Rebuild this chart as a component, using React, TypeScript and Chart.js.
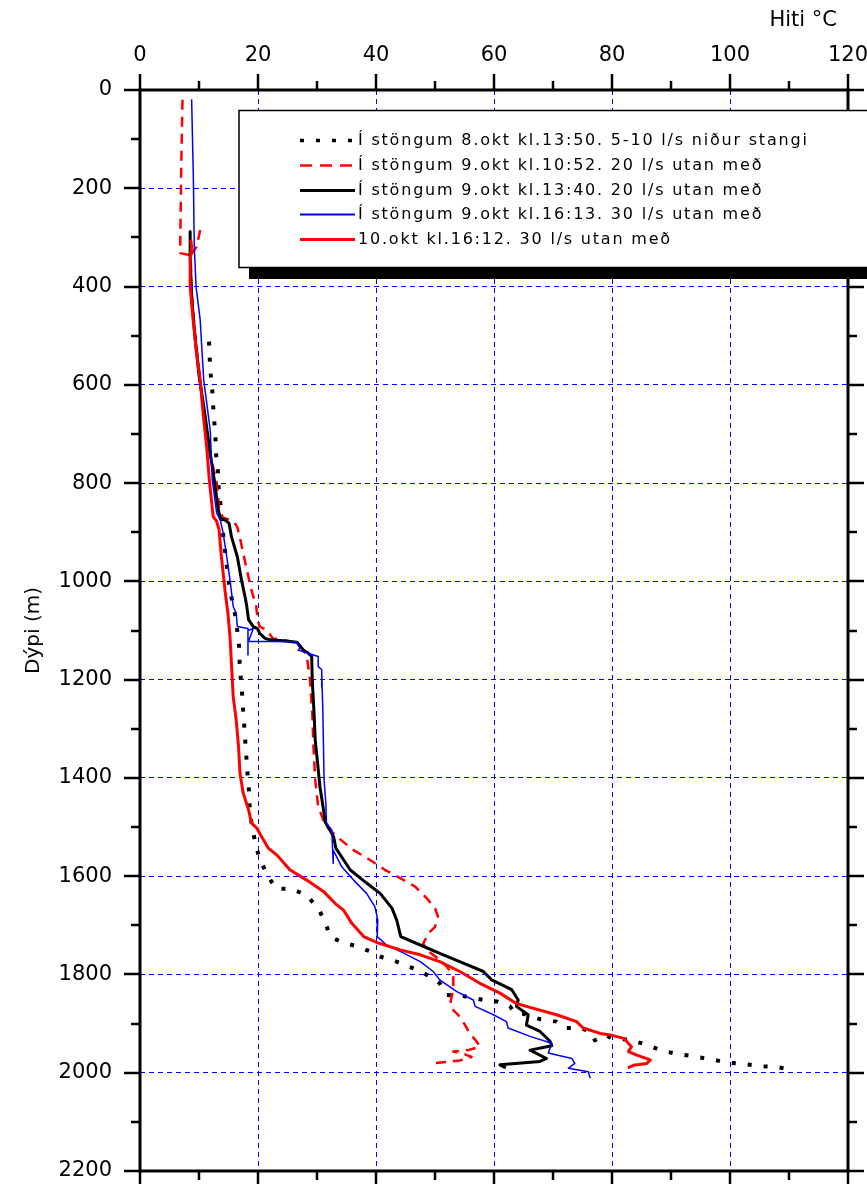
import { useEffect, useRef } from 'react';
import { Chart, registerables } from 'chart.js';

Chart.register(...registerables);

const FONT = "'DejaVu Sans', sans-serif";

// Axis ticks
const xTickValues = [0, 20, 40, 60, 80, 100, 120];
const xTickLabels = ['0', '20', '40', '60', '80', '100', '120'];
const xMinorTicks = [10, 30, 50, 70, 90, 110];
const yTickValues = [0, 200, 400, 600, 800, 1000, 1200, 1400, 1600, 1800, 2000, 2200];
const yTickLabels = ['0', '200', '400', '600', '800', '1000', '1200', '1400', '1600', '1800', '2000', '2200'];
const yMinorTicks = [100, 300, 500, 700, 900, 1100, 1300, 1500, 1700, 1900, 2100];
const xAxisTitle = 'Hiti °C';
const yAxisTitle = 'Dýpi (m)';

// Series labels
const seriesLabels = [
  'Í stöngum 8.okt kl.13:50. 5-10 l/s niður stangi',
  'Í stöngum 9.okt kl.10:52. 20 l/s utan með',
  'Í stöngum 9.okt kl.13:40. 20 l/s utan með',
  'Í stöngum 9.okt kl.16:13. 30 l/s utan með',
  '10.okt kl.16:12. 30 l/s utan með',
];

// Series 1: 8.okt 13:50 (temperature °C, depth m)
const s1Temp = [11.7, 11.8, 12.0, 12.25, 12.4, 12.6, 12.8, 12.9, 13.2, 13.3, 13.6, 13.9, 14.1, 14.4, 14.8, 15.25, 15.7, 16.2, 16.5, 16.8, 16.9, 17.1, 17.35, 17.5, 17.7, 17.9, 18.1, 18.25, 18.5, 18.6, 18.9, 19.5, 20.2, 21.4, 23.0, 25.8, 28.4, 30.5, 31.7, 32.0, 33.0, 35.0, 36.6, 39.0, 40.8, 43.5, 45.8, 47.6, 50.0, 50.8, 52.0, 54.5, 56.5, 58.2, 60.5, 62.7, 63.6, 65.0, 67.8, 70.6, 72.0, 74.6, 76.3, 77.1, 78.8, 80.0, 83.0, 85.9, 88.4, 91.2, 94.1, 96.9, 99.4, 102.7, 105.6, 108.3, 110.0];
const s1Depth = [512, 543, 580, 612, 644, 676, 710, 743, 775, 807, 840, 872, 905, 936, 977, 1018, 1044, 1072, 1102, 1133, 1167, 1201, 1235, 1268, 1299, 1336, 1370, 1397, 1431, 1462, 1492, 1530, 1562, 1594, 1625, 1626, 1640, 1672, 1704, 1718, 1728, 1737, 1742, 1753, 1764, 1774, 1785, 1794, 1810, 1818, 1842, 1843, 1848, 1852, 1855, 1865, 1879, 1880, 1891, 1896, 1909, 1909, 1916, 1934, 1923, 1930, 1933, 1943, 1955, 1962, 1967, 1973, 1979, 1983, 1987, 1989, 1993];

// Series 2: 9.okt 10:52 (null = break between logging runs)
const s2Temp = [7.2, 7.0, 6.8, 8.4, null, 10.2, 9.6, 8.6, 8.7, 9.2, 9.9, 10.6, 11.5, 13.0, 13.4, 14.0, 15.0, 16.0, 16.5, 16.9, 17.5, 18.25, 18.9, 19.7, 19.95, 20.3, 21.5, 22.5, 25.0, 26.8, 27.5, 28.25, 28.8, 29.2, 29.4, 29.7, 30.2, 31.4, 33.3, 36.2, 39.0, 41.5, 44.1, 46.6, 48.6, 50.0, 50.5, 50.0, 48.9, 48.0, 48.9, 50.8, 52.0, 53.1, 53.1, 52.65, 52.8, 54.2, 55.1, 55.9, 57.1, 57.6, 55.6, 53.1, 55.0, 56.2, 54.2, 52.0, 49.4];
const s2Depth = [20, 150, 332, 336, null, 285, 319, 336, 400, 480, 560, 640, 720, 800, 850, 870, 874, 880, 890, 909, 943, 984, 1018, 1051, 1079, 1092, 1099, 1116, 1121, 1126, 1138, 1150, 1200, 1268, 1336, 1404, 1458, 1496, 1519, 1547, 1567, 1587, 1604, 1621, 1645, 1665, 1682, 1703, 1716, 1737, 1753, 1770, 1784, 1804, 1831, 1855, 1869, 1886, 1903, 1920, 1937, 1947, 1954, 1957, 1962, 1968, 1975, 1978, 1981];

// Series 3: 9.okt 13:40
const s3Temp = [8.5, 8.5, 8.75, 9.3, 10.0, 11.0, 11.9, 12.6, 13.2, 13.6, 14.4, 15.1, 15.5, 16.5, 17.2, 17.8, 18.1, 18.4, 19.2, 19.9, 20.3, 21.2, 22.0, 24.3, 26.6, 27.1, 27.7, 28.5, 29.1, 29.2, 29.5, 29.7, 30.1, 30.5, 31.1, 31.4, 32.8, 33.2, 35.6, 38.4, 40.7, 42.7, 43.5, 44.2, 46.9, 50.8, 54.8, 58.2, 59.6, 63.0, 64.1, 63.8, 65.8, 65.5, 67.8, 69.5, 69.8, 66.1, 68.9, 67.8, 61.0, 62.0];
const s3Depth = [288, 339, 421, 500, 580, 660, 740, 794, 850, 872, 875, 882, 909, 950, 997, 1031, 1051, 1078, 1092, 1096, 1106, 1116, 1119, 1121, 1124, 1131, 1140, 1146, 1153, 1201, 1268, 1323, 1370, 1418, 1465, 1490, 1519, 1543, 1587, 1614, 1635, 1665, 1689, 1723, 1737, 1757, 1777, 1794, 1811, 1831, 1852, 1865, 1882, 1903, 1916, 1936, 1945, 1954, 1971, 1977, 1984, 1990];

// Series 4: 9.okt 16:13
const s4Temp = [8.75, 9.05, 9.2, 9.5, 10.2, 10.8, 11.9, 12.25, 13.0, 13.6, 14.1, 14.7, 15.25, 15.8, 16.3, 16.5, 18.3, 18.3, 18.3, 19.2, 18.4, 26.5, 27.1, 26.8, 29.4, 30.2, 30.2, 30.8, 30.8, 30.8, 31.0, 31.1, 31.2, 31.5, 31.6, 32.5, 32.75, 32.75, 34.2, 36.2, 38.4, 39.8, 40.3, 40.2, 41.8, 44.1, 47.5, 49.7, 50.8, 53.7, 56.5, 56.8, 59.9, 62.1, 62.4, 66.1, 69.8, 69.2, 73.2, 73.7, 72.6, 76.0, 76.3];
const s4Depth = [19, 183, 319, 400, 468, 590, 692, 794, 861, 875, 902, 950, 997, 1051, 1065, 1092, 1096, 1150, 1100, 1096, 1122, 1123, 1136, 1140, 1150, 1153, 1173, 1180, 1215, 1185, 1268, 1336, 1404, 1452, 1492, 1506, 1574, 1547, 1581, 1608, 1635, 1662, 1689, 1723, 1740, 1753, 1774, 1794, 1811, 1835, 1852, 1865, 1882, 1896, 1909, 1926, 1940, 1960, 1971, 1981, 1991, 1998, 2011];

// Series 5: 10.okt 16:12
const s5Temp = [8.6, 8.75, 8.5, 8.5, 9.0, 9.6, 10.2, 10.7, 11.3, 11.75, 12.4, 13.0, 13.4, 13.8, 14.4, 14.9, 15.25, 15.5, 15.8, 16.3, 16.7, 16.95, 17.5, 18.4, 18.9, 19.8, 20.3, 21.75, 23.2, 25.4, 28.25, 31.1, 33.3, 34.5, 35.9, 37.9, 40.4, 44.1, 47.5, 50.8, 54.2, 57.6, 61.0, 63.8, 66.7, 70.6, 74.0, 75.1, 78.0, 79.7, 82.0, 83.3, 82.8, 84.2, 86.5, 85.9, 83.6, 82.7];
const s5Depth = [305, 319, 346, 400, 468, 536, 590, 658, 726, 794, 868, 878, 895, 950, 1018, 1065, 1112, 1167, 1235, 1282, 1336, 1391, 1431, 1465, 1492, 1502, 1513, 1543, 1557, 1587, 1608, 1631, 1658, 1669, 1696, 1723, 1736, 1750, 1760, 1774, 1794, 1818, 1838, 1859, 1869, 1882, 1896, 1909, 1920, 1923, 1930, 1947, 1957, 1964, 1974, 1981, 1985, 1990];

const toPoints = (t: (number | null)[], d: (number | null)[]) =>
  t.map((v, i) => ({ x: v, y: d[i] }));

const framePlugin = {
  id: 'frameTicks',
  afterDatasetsDraw(chart: any) {
    const { ctx, chartArea: a, scales } = chart;
    const xs = scales.x;
    const ys = scales.y;
    ctx.save();
    ctx.strokeStyle = '#000';
    ctx.lineWidth = 3;
    ctx.setLineDash([]);
    ctx.strokeRect(a.left, a.top, a.right - a.left, a.bottom - a.top);
    ctx.lineWidth = 2.5;
    const seg = (x1: number, y1: number, x2: number, y2: number) => {
      ctx.beginPath();
      ctx.moveTo(x1, y1);
      ctx.lineTo(x2, y2);
      ctx.stroke();
    };
    const xTick = (v: number, len: number) => {
      const p = Math.round(xs.getPixelForValue(v));
      seg(p, a.top, p, a.top - len);
      seg(p, a.bottom, p, a.bottom + len);
    };
    const yTick = (v: number, len: number) => {
      const p = Math.round(ys.getPixelForValue(v));
      seg(a.left, p, a.left - len, p);
      seg(a.right, p, a.right + len, p);
    };
    xTickValues.forEach((v) => xTick(v, 16));
    xMinorTicks.forEach((v) => xTick(v, 9));
    yTickValues.forEach((v) => yTick(v, 16));
    yMinorTicks.forEach((v) => yTick(v, 9));
    ctx.restore();
  },
  afterDraw(chart: any) {
    const { ctx } = chart;
    ctx.save();
    // x axis title
    ctx.fillStyle = '#000';
    ctx.font = `21px ${FONT}`;
    ctx.textAlign = 'right';
    ctx.textBaseline = 'middle';
    ctx.fillText(xAxisTitle, 837, 21);

    // legend box with shadow
    ctx.fillStyle = '#000';
    ctx.fillRect(249, 121, 700, 158);
    ctx.fillStyle = '#fff';
    ctx.fillRect(239, 110, 700, 158);
    ctx.strokeStyle = '#000';
    ctx.lineWidth = 1.5;
    ctx.setLineDash([]);
    ctx.strokeRect(239, 110.5, 700, 157);

    const datasets = chart.data.datasets;
    ctx.font = `16px ${FONT}`;
    try { (ctx as any).letterSpacing = '1.8px'; } catch (e) { /* ignore */ }
    datasets.forEach((ds: any, i: number) => {
      const yy = Math.round(140 + i * 24.75) + 0.5;
      ctx.strokeStyle = ds.borderColor;
      ctx.lineWidth = ds.legendWidth;
      ctx.setLineDash(ds.legendDash || []);
      ctx.lineCap = 'butt';
      ctx.beginPath();
      ctx.moveTo(300, yy);
      ctx.lineTo(355, yy);
      ctx.stroke();
      ctx.setLineDash([]);
      ctx.fillStyle = '#000';
      ctx.textAlign = 'left';
      ctx.textBaseline = 'middle';
      ctx.fillText(ds.label, 358, yy);
    });
    ctx.restore();
  },
};

export default function App() {
  const ref = useRef<HTMLCanvasElement>(null);
  useEffect(() => {
    const canvas = ref.current;
    if (!canvas) return;
    const chart = new Chart(canvas, {
      type: 'line',
      data: {
        datasets: [
          {
            label: seriesLabels[0],
            data: toPoints(s1Temp, s1Depth),
            borderColor: '#000000',
            borderWidth: 4,
            borderDash: [4, 12],
            legendDash: [4, 12],
            legendWidth: 3.5,
            order: 4,
          } as any,
          {
            label: seriesLabels[1],
            data: toPoints(s2Temp, s2Depth),
            borderColor: '#ff0000',
            borderWidth: 2.5,
            borderDash: [10, 7],
            legendDash: [12, 8],
            legendWidth: 2.5,
            order: 3,
          } as any,
          {
            label: seriesLabels[2],
            data: toPoints(s3Temp, s3Depth),
            borderColor: '#000000',
            borderWidth: 3,
            legendWidth: 3,
            order: 2,
          } as any,
          {
            label: seriesLabels[3],
            data: toPoints(s4Temp, s4Depth),
            borderColor: '#0000ff',
            borderWidth: 1.5,
            legendWidth: 2,
            order: 1,
          } as any,
          {
            label: seriesLabels[4],
            data: toPoints(s5Temp, s5Depth),
            borderColor: '#ff0000',
            borderWidth: 3,
            legendWidth: 3,
            order: 0,
          } as any,
        ],
      },
      options: {
        animation: false,
        responsive: false,
        maintainAspectRatio: false,
        layout: { padding: { left: 0, right: 19, top: 0, bottom: 13 } },
        elements: {
          point: { radius: 0, hoverRadius: 0 },
          line: { tension: 0, fill: false, borderCapStyle: 'butt', borderJoinStyle: 'round' },
        },
        spanGaps: false,
        plugins: {
          legend: { display: false },
          tooltip: { enabled: false },
        },
        events: [],
        scales: {
          x: {
            type: 'linear',
            position: 'top',
            min: 0,
            max: 120,
            afterBuildTicks: (s: any) => {
              s.ticks = xTickValues.map((v) => ({ value: v }));
            },
            afterFit: (s: any) => {
              s.height = 90;
              s.paddingLeft = 0;
              s.paddingRight = 0;
            },
            ticks: {
              callback: (_v: any, i: number) => xTickLabels[i],
              font: { family: FONT, size: 21 },
              color: '#000',
              padding: 0,
              maxRotation: 0,
              autoSkip: false,
            },
            grid: {
              color: '#0000ff',
              lineWidth: 1,
              drawTicks: true,
              tickLength: 22,
              tickColor: 'rgba(0,0,0,0)',
            },
            border: { display: false, dash: [5, 4] },
          },
          y: {
            type: 'linear',
            position: 'left',
            reverse: true,
            min: 0,
            max: 2200,
            afterBuildTicks: (s: any) => {
              s.ticks = yTickValues.map((v) => ({ value: v }));
            },
            afterFit: (s: any) => {
              s.width = 140;
              s.paddingTop = 0;
              s.paddingBottom = 0;
            },
            ticks: {
              callback: (_v: any, i: number) => yTickLabels[i],
              font: { family: FONT, size: 21 },
              color: '#000',
              padding: 0,
              autoSkip: false,
            },
            grid: {
              color: '#0000ff',
              lineWidth: 1,
              drawTicks: true,
              tickLength: 28,
              tickColor: 'rgba(0,0,0,0)',
            },
            border: { display: false, dash: [5, 4] },
            title: {
              display: true,
              text: yAxisTitle,
              font: { family: FONT, size: 20 },
              color: '#000',
              padding: { top: 22, bottom: 0 },
            },
          },
        },
      } as any,
      plugins: [framePlugin],
    });
    return () => chart.destroy();
  }, []);
  return (
    <div style={{ position: 'absolute', left: 0, top: 0, width: 867, height: 1184, background: '#fff' }}>
      <canvas ref={ref} width={867} height={1184} style={{ display: 'block' }} />
    </div>
  );
}
